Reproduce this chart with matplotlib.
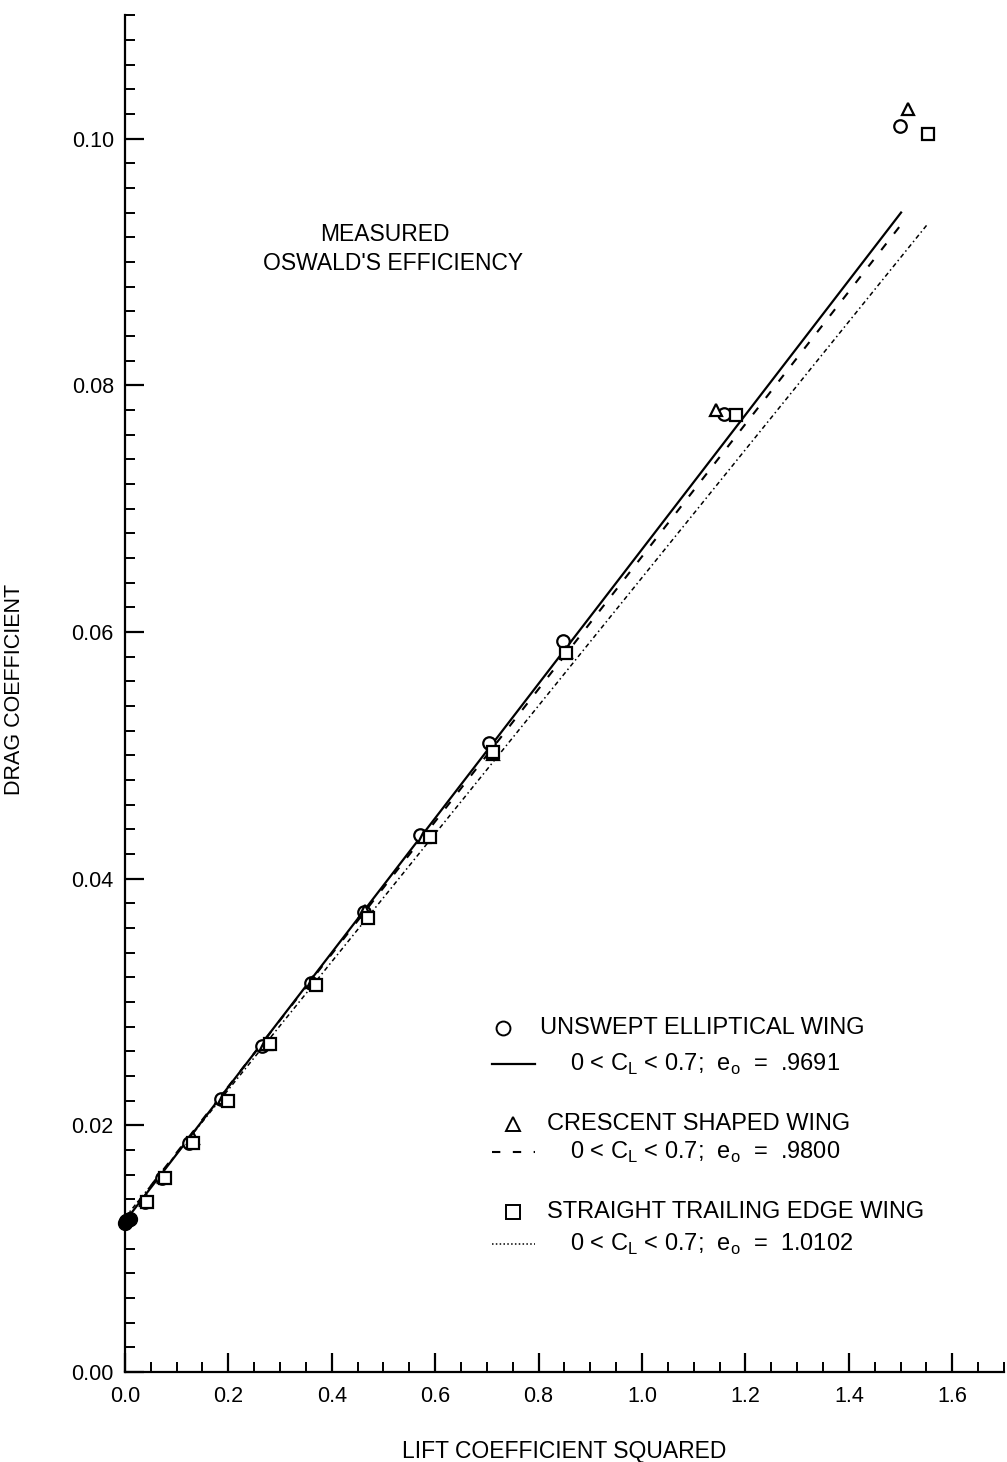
import matplotlib
matplotlib.use("Agg")
import matplotlib.pyplot as plt
from matplotlib.ticker import MultipleLocator, FormatStrFormatter

plt.rcParams['font.family'] = ['Liberation Sans', 'DejaVu Sans']
plt.rcParams['mathtext.fontset'] = 'custom'
plt.rcParams['mathtext.rm'] = 'Liberation Sans'

# measured points (CL^2, CD)
ellip_x = [0.039, 0.072, 0.124, 0.186, 0.265, 0.360, 0.462, 0.571, 0.704, 0.847, 1.158, 1.499]
ellip_y = [0.0138, 0.0157, 0.0186, 0.0221, 0.0264, 0.0315, 0.0373, 0.0435, 0.0510, 0.0593, 0.0777, 0.1010]

cresc_x = [0.041, 0.075, 0.131, 0.191, 0.273, 0.363, 0.464, 0.578, 0.712, 0.853, 1.143, 1.514]
cresc_y = [0.0139, 0.0158, 0.0190, 0.0222, 0.0266, 0.0316, 0.0374, 0.0434, 0.0501, 0.0584, 0.0780, 0.1024]

strte_x = [0.043, 0.077, 0.131, 0.199, 0.280, 0.369, 0.470, 0.590, 0.712, 0.853, 1.182, 1.554]
strte_y = [0.0138, 0.0157, 0.0186, 0.0220, 0.0266, 0.0314, 0.0368, 0.0434, 0.0503, 0.0583, 0.0776, 0.1004]

# zero-lift cluster
zero_x = [0.0, 0.003, 0.006, 0.009]
zero_y = [0.0121, 0.0122, 0.0123, 0.0124]

# fitted lines (end points)
fit_x = {'ellip': [0.0, 1.501], 'cresc': [0.0, 1.5025], 'strte': [0.0, 1.553]}
fit_y = {'ellip': [0.0122, 0.0940], 'cresc': [0.0124, 0.0931], 'strte': [0.0125, 0.0931]}

fig = plt.figure(figsize=(10.07, 14.62), dpi=100)
ax = fig.add_axes([0.124, 0.0616, 0.873, 0.928])

ax.plot(fit_x['ellip'], fit_y['ellip'], color='black', lw=1.6, ls='-')
ax.plot(fit_x['cresc'], fit_y['cresc'], color='black', lw=1.5, ls=(0, (4, 6)))
ax.plot(fit_x['strte'], fit_y['strte'], color='black', lw=1.1, ls=(0, (3, 2, 1, 2)))

mk = dict(ls='none', mfc='white', mec='black', mew=1.6, ms=9, zorder=3)
ax.plot(ellip_x, ellip_y, marker='o', **mk)
ax.plot(cresc_x, cresc_y, marker='^', **mk)
ax.plot(strte_x, strte_y, marker='s', **mk)
ax.plot(zero_x, zero_y, marker='o', ls='none', color='black', ms=10, zorder=4, clip_on=False)

ax.set_xlim(0, 1.70)
ax.set_ylim(0, 0.110)
ax.spines['top'].set_visible(False)
ax.spines['right'].set_visible(False)
for s in ['left', 'bottom']:
    ax.spines[s].set_linewidth(1.6)

ax.xaxis.set_major_locator(MultipleLocator(0.2))
ax.xaxis.set_minor_locator(MultipleLocator(0.05))
ax.yaxis.set_major_locator(MultipleLocator(0.02))
ax.yaxis.set_minor_locator(MultipleLocator(0.002))
ax.xaxis.set_major_formatter(FormatStrFormatter('%.1f'))
ax.yaxis.set_major_formatter(FormatStrFormatter('%.2f'))
ax.tick_params(which='major', direction='in', length=14, width=1.6, labelsize=15.5)
ax.tick_params(which='minor', direction='in', length=7, width=1.4)
ax.tick_params(axis='x', which='major', pad=10)
ax.tick_params(axis='y', which='major', pad=8)

ax.set_xlabel('LIFT COEFFICIENT SQUARED', fontsize=16.5)
ax.set_ylabel('DRAG COEFFICIENT', fontsize=15.5)
ax.xaxis.set_label_coords(0.5, -0.050)
ax.yaxis.set_label_coords(-0.114, 0.503)

ax.text(0.503, 0.0922, 'MEASURED', ha='center', va='center', fontsize=16.5)
ax.text(0.518, 0.0899, "OSWALD'S EFFICIENCY", ha='center', va='center', fontsize=16.5)

# legend drawn by hand
names = ['UNSWEPT ELLIPTICAL WING', 'CRESCENT SHAPED WING', 'STRAIGHT TRAILING EDGE WING']
fits = [r'0 < C$_\mathregular{L}$ < 0.7;  e$_\mathregular{o}$  =  .9691',
        r'0 < C$_\mathregular{L}$ < 0.7;  e$_\mathregular{o}$  =  .9800',
        r'0 < C$_\mathregular{L}$ < 0.7;  e$_\mathregular{o}$  =  1.0102']
markers = ['o', '^', 's']
mark_x = [0.430, 0.441, 0.441]
name_x = [0.472, 0.480, 0.480]
styles = [('-', 1.6), ((0, (4, 6)), 1.5), ((0, (1, 1.5)), 1.1)]
rows = [0.2535, 0.1828, 0.1179]
subrows = [0.2270, 0.1621, 0.0943]
tr = ax.transAxes
for i in range(3):
    ax.plot([mark_x[i]], [rows[i]], marker=markers[i], ls='none', mfc='white', mec='black',
            mew=1.4, ms=10, transform=tr)
    ax.text(name_x[i], rows[i], names[i], transform=tr, ha='left', va='center', fontsize=17)
    ax.plot([0.4175, 0.4664], [subrows[i], subrows[i]], color='black', ls=styles[i][0],
            lw=styles[i][1], transform=tr)
    ax.text(0.506, subrows[i], fits[i], transform=tr, ha='left', va='center', fontsize=17)

fig.savefig('out.png', dpi=100)
